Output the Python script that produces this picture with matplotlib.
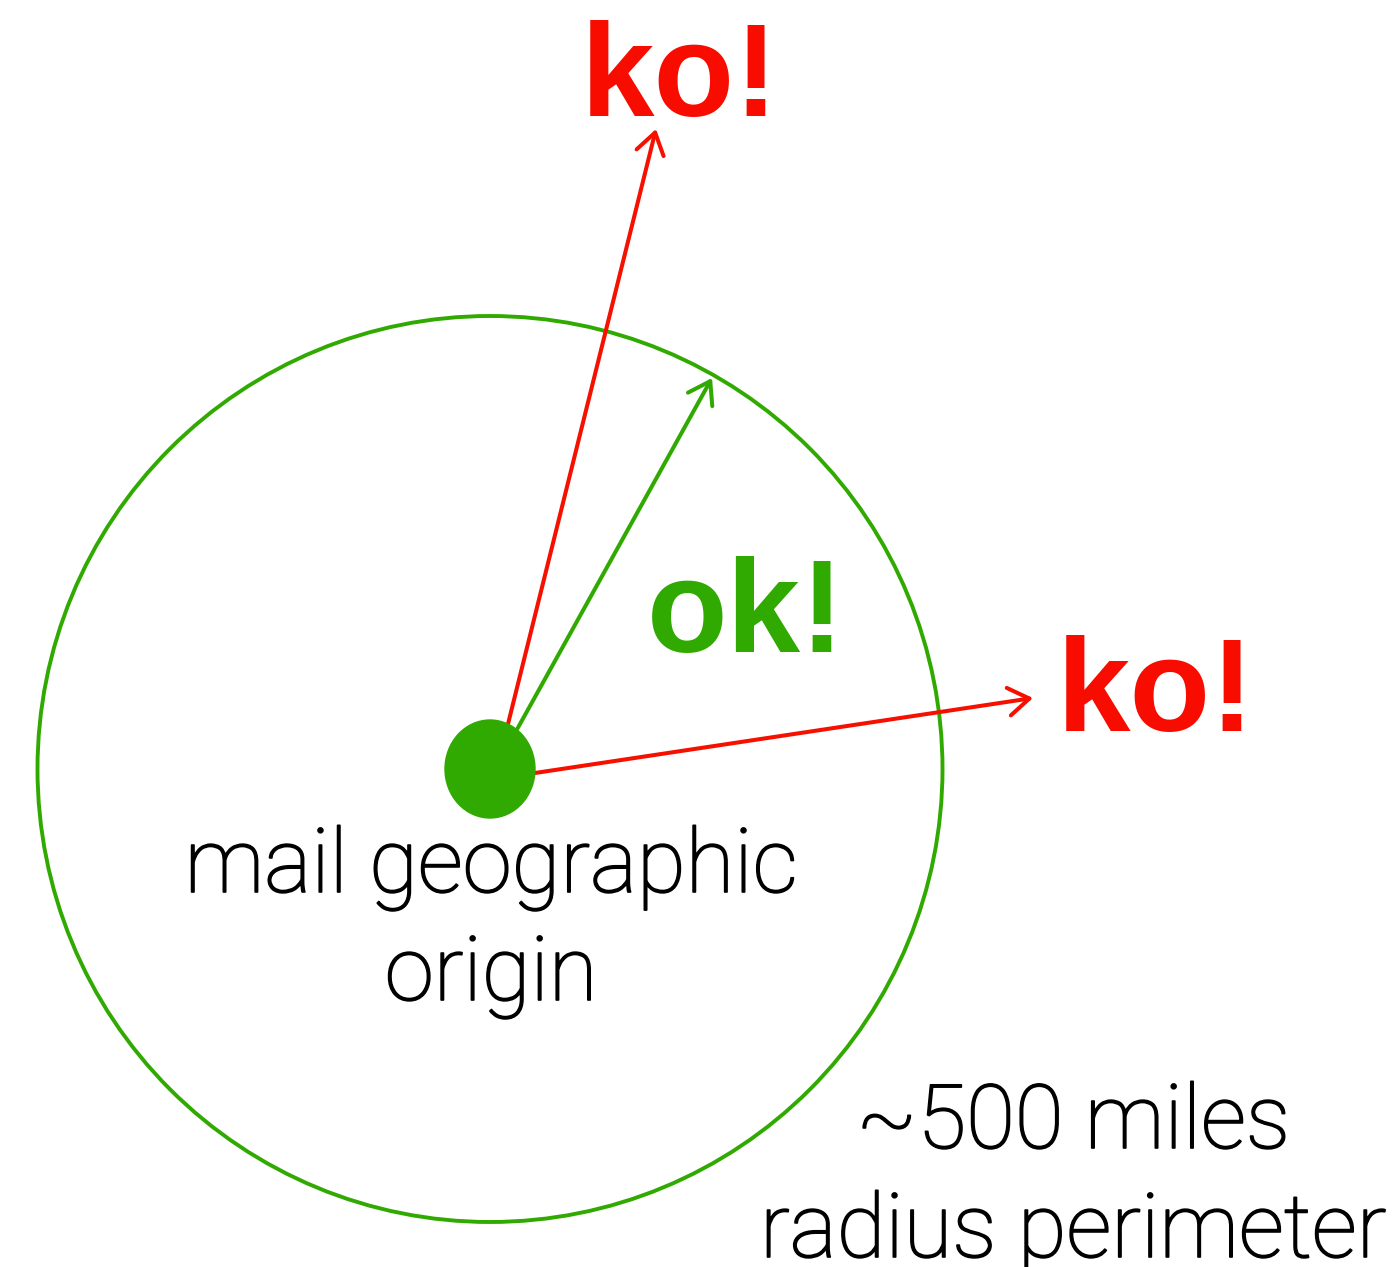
import matplotlib
matplotlib.use('Agg')
from matplotlib import pyplot as plt
from matplotlib.patches import Ellipse
import matplotlib.patheffects as pe

# picture is laid out in pixel units (x right, y down)
W, H = 1400, 1267

origin = (490, 769)
circle_w, circle_h = 905, 906
dot_w, dot_h = 90, 98

# arrows: start point, end point, colour
arrow_starts = [(507, 728), (515, 733), (535, 773)]
arrow_ends = [(656, 129), (712, 378), (1033, 698)]
arrow_colors = ['#f51000', '#30aa00', '#f51000']

# bold labels
big_labels = ['ko!', 'ok!', 'ko!']
big_x = [680, 746, 1156]
big_y = [116, 652, 731]
big_colors = ['#f80c00', '#30aa00', '#f80c00']

# plain labels (two lines each)
small_labels = [['mail geographic', 'origin'], ['~500 miles', 'radius perimeter']]
small_x = [491, 1073]
small_y = [[892, 1000], [1148, 1257]]

green = '#30aa00'

fig = plt.figure(figsize=(W / 100, H / 100), dpi=100)
ax = fig.add_axes([0, 0, 1, 1])
ax.set_xlim(0, W)
ax.set_ylim(H, 0)
ax.set_aspect('equal')
ax.axis('off')

ax.add_patch(Ellipse(origin, circle_w, circle_h, fill=False, edgecolor=green, lw=2.8))

for s, e, c in zip(arrow_starts, arrow_ends, arrow_colors):
    ax.annotate('', xy=e, xytext=s,
                arrowprops=dict(arrowstyle='->,head_length=0.6,head_width=0.4',
                                color=c, lw=2.9, shrinkA=0, shrinkB=0,
                                mutation_scale=25))

ax.add_patch(Ellipse(origin, dot_w, dot_h, color=green, zorder=5))

for t, x, y, c in zip(big_labels, big_x, big_y, big_colors):
    ax.text(x, y, t, color=c, fontsize=95, fontweight='bold',
            family=['Liberation Sans', 'DejaVu Sans'], ha='center', va='baseline')

# light face, thickened a little to get near Helvetica Light
for lines, x, ys in zip(small_labels, small_x, small_y):
    for t, y in zip(lines, ys):
        ax.text(x, y, t, color='black', fontsize=64, fontweight='light',
                family=['Roboto', 'DejaVu Sans'], ha='center', va='baseline',
                path_effects=[pe.withStroke(linewidth=1.2, foreground='black')])

fig.savefig('out.png', dpi=100)
